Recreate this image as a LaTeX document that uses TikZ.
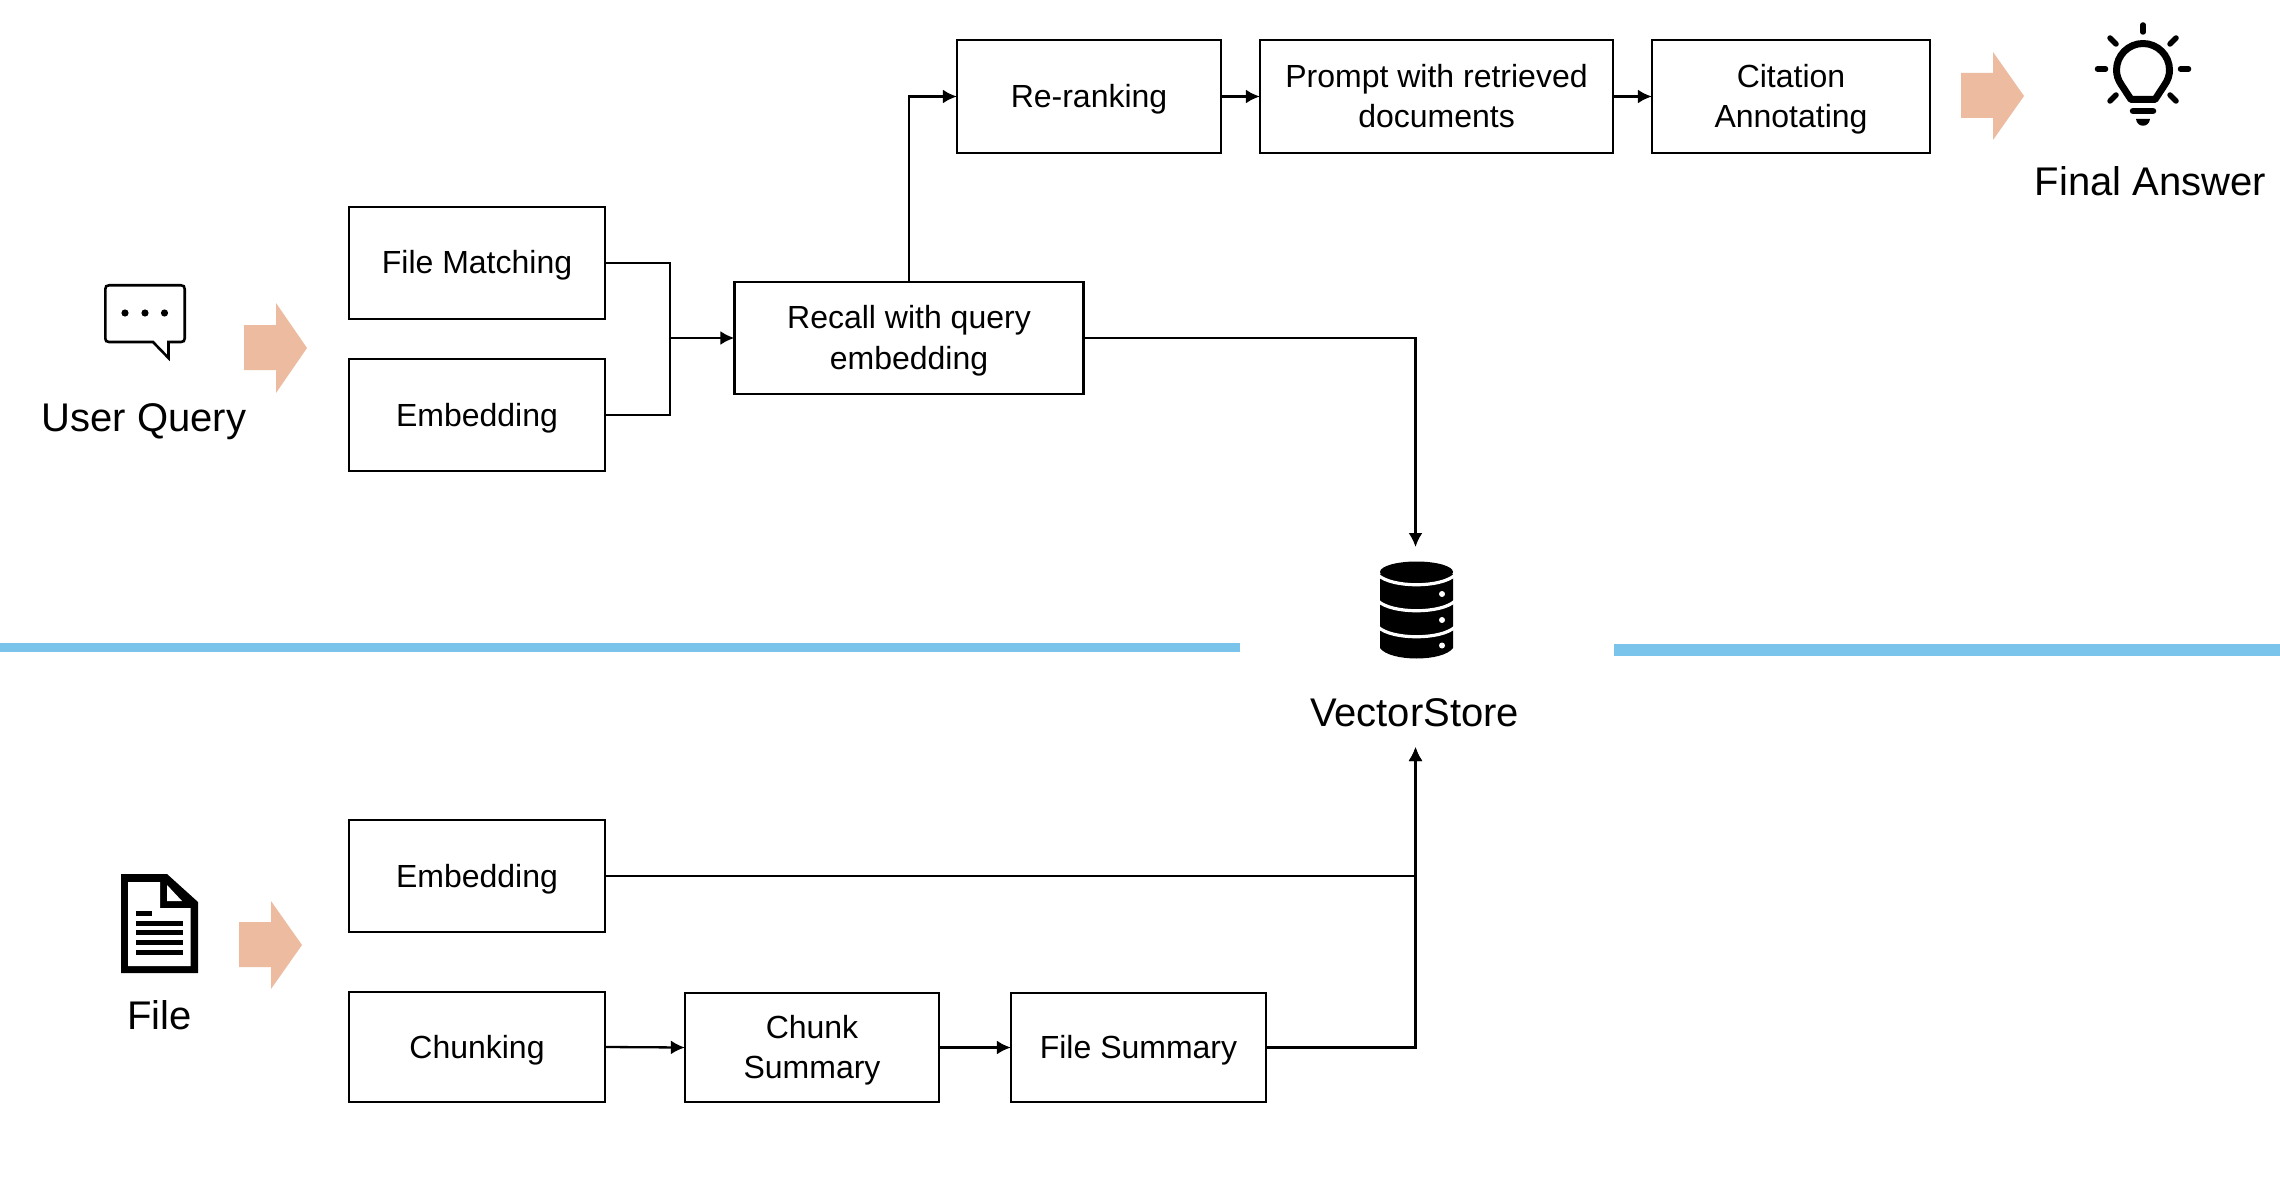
\documentclass[tikz,border=0pt]{standalone}
\usepackage{fontspec}
\setmainfont{Liberation Sans}
\usetikzlibrary{arrows.meta}
\definecolor{peach}{HTML}{EDBBA0}
\definecolor{sky}{HTML}{7AC4EC}
\tikzset{
  stepbox/.style={draw=black,line width=2.3pt,inner sep=0pt,align=center,font=\fontsize{32}{40.5}\selectfont},
  biglabel/.style={anchor=base,inner sep=0pt,font=\fontsize{40}{48}\selectfont},
  link/.style={draw=black,line width=2.3pt,-{Latex[length=14pt,width=14pt]},shorten >=-1pt},
  plain/.style={draw=black,line width=2.3pt},
  block/.style={fill=peach,draw=none},
  ray/.style={draw=black,line width=5.5pt,line cap=round}
}
\newcommand{\boxat}[7]{\node[stepbox,minimum width=#3 pt,minimum height=#4 pt] (#1) at (#5,#6) {\rule{0pt}{29pt}#7\rule[-7pt]{0pt}{7pt}};}
\begin{document}
\begin{tikzpicture}[x=1pt,y=-1pt]
\useasboundingbox (0,0) rectangle (2280,1190);
\fill[white] (0,0) rectangle (2280,1190);
% separators
\fill[sky] (0,643) rectangle (1240,652);
\fill[sky] (1614,644) rectangle (2280,656);
% boxes
\boxat{fm}{}{256}{112}{477}{263}{File Matching}
\boxat{em}{}{256}{112}{477}{415}{Embedding}
\boxat{re}{}{349}{112}{909}{338}{Recall with query\\embedding}
\boxat{rr}{}{264}{113}{1089}{96.5}{Re-ranking}
\boxat{pr}{}{353}{113}{1436.5}{96.5}{Prompt with retrieved\\documents}
\boxat{ci}{}{278}{113}{1791}{96.5}{Citation\\Annotating}
\boxat{fe}{}{256}{112}{477}{876}{Embedding}
\boxat{ch}{}{256}{110}{477}{1047}{Chunking}
\boxat{cs}{}{254}{109}{812}{1047.5}{Chunk\\Summary}
\boxat{fs}{}{255}{109}{1138.5}{1047.5}{File Summary}
% labels
\node[biglabel] (uq) at (144,431) {User Query};
\node[biglabel] (fa) at (2150.5,195.5) {Final Answer};
\node[biglabel] (vs) at (1414.5,726) {VectorStore};
\node[biglabel] (fl) at (159.5,1029) {File};
% connector free ends
\coordinate (merge) at (670,338);
\coordinate (dbtop) at (1415.5,546);
\coordinate (dbbot) at (1415.5,748);
% connectors
\draw[plain] (fm.east) -| (merge);
\draw[plain] (em.east) -| (merge);
\draw[link] (merge) -- (re.west);
\draw[link] (re.north) |- (rr.west);
\draw[link] (rr.east) -- (pr.west);
\draw[link] (pr.east) -- (ci.west);
\draw[link] (re.east) -| (dbtop);
\draw[link] (fe.east) -| (dbbot);
\draw[link] (fs.east) -| (dbbot);
\draw[link] (ch.east) -- (cs.west);
\draw[link] (cs.east) -- (fs.west);
% block arrows
\fill[block] (244,325) -- (276,325) -- (276,303) -- (307,348) -- (276,393) -- (276,370) -- (244,370) -- cycle;
\fill[block] (1961,73) -- (1993,73) -- (1993,52) -- (2024,96) -- (1993,140) -- (1993,118) -- (1961,118) -- cycle;
\fill[block] (239,922) -- (271,922) -- (271,901) -- (302,945) -- (271,989) -- (271,967) -- (239,967) -- cycle;
% chat bubble
\draw[line width=2.6pt,line join=miter] (168.5,342) -- (168.5,358) -- (153,342) -- (109,342) .. controls (106.5,342) and (105.3,340.8) .. (105.3,338.5) -- (105.3,289) .. controls (105.3,286.5) and (106.5,285.3) .. (109,285.3) -- (181,285.3) .. controls (183.5,285.3) and (184.7,286.5) .. (184.7,289) -- (184.7,338.5) .. controls (184.7,340.8) and (183.5,342) .. (181,342) -- cycle;
\foreach \x in {125,145,164.5} \fill (\x,313) circle (3.6);
% bulb
\draw[line width=7pt,line join=round] (2131,99.5) -- (2121.5,85) .. controls (2118,80) and (2116.5,75) .. (2116.5,70) .. controls (2116.5,55.4) and (2128.4,43.5) .. (2143,43.5) .. controls (2157.6,43.5) and (2169.5,55.4) .. (2169.5,70) .. controls (2169.5,75) and (2168,80) .. (2164.5,85) -- (2155,99.5) -- cycle;
\draw[line width=6.5pt,line cap=round] (2133,111) -- (2153,111);
\fill (2136,119) -- (2150,119) .. controls (2149,128) and (2137,128) .. cycle;
\draw[ray] (2143,25) -- (2143,32);
\draw[ray] (2097.5,69) -- (2105.5,69);
\draw[ray] (2180.5,69) -- (2188.5,69);
\draw[ray] (2110,38) -- (2116,44);
\draw[ray] (2176,38) -- (2170,44);
\draw[ray] (2110,101) -- (2116,95);
\draw[ray] (2176,101) -- (2170,95);
% database
\fill (1416.5,572) ellipse (36.5 and 10.5);
\fill (1380,574) -- (1380,648) .. controls (1390,662) and (1443,662) .. (1453,648) -- (1453,574) -- cycle;
\foreach \yy in {575,601,627}
  \draw[white,line width=3.2pt] (1378,\yy) .. controls (1392,\yy+13) and (1441,\yy+13) .. (1455,\yy);
\foreach \yy in {594,620,645.5} \fill[white] (1442,\yy) circle (3);
% file icon
\fill (121,874) -- (167,874) -- (198,902) -- (198,973) -- (121,973) -- cycle;
\fill[white] (128,882) -- (160,882) -- (160,908) -- (190.5,908) -- (190.5,966) -- (128,966) -- cycle;
\fill[white] (167,885) -- (182,901) -- (167,901) -- cycle;
\fill (136,910.5) rectangle (152,915.5);
\foreach \yy in {920.5,930,940,949.5} \fill (136,\yy) rectangle (183,\yy+5);
\end{tikzpicture}
\end{document}
